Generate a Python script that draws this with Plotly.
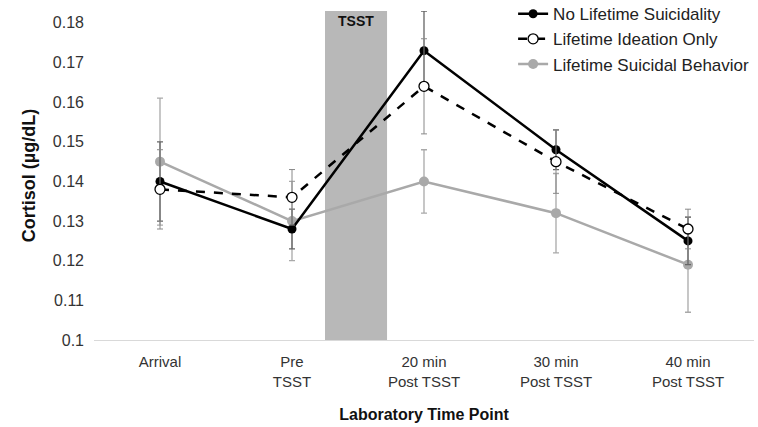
import plotly.graph_objects as go

categories = ["Arrival", "Pre<br>TSST", "20 min<br>Post TSST", "30 min<br>Post TSST", "40 min<br>Post TSST"]
none_vals = [0.140, 0.128, 0.173, 0.148, 0.125]
none_err = [0.010, 0.005, 0.010, 0.005, 0.006]
ideation_vals = [0.138, 0.136, 0.164, 0.145, 0.128]
ideation_err = [0.010, 0.007, 0.012, 0.008, 0.005]
behavior_vals = [0.145, 0.130, 0.140, 0.132, 0.119]
behavior_err = [0.016, 0.010, 0.008, 0.010, 0.012]
yticks = [0.10, 0.11, 0.12, 0.13, 0.14, 0.15, 0.16, 0.17, 0.18]
ytick_text = ["0.1", "0.11", "0.12", "0.13", "0.14", "0.15", "0.16", "0.17", "0.18"]

xi = list(range(len(categories)))
FONT = "Liberation Sans, Arial"

fig = go.Figure()
fig.add_trace(go.Scatter(
    x=xi, y=behavior_vals, name="Lifetime Suicidal Behavior", legendrank=3,
    mode="lines+markers",
    line=dict(color="#a9a9a9", width=2.5),
    marker=dict(symbol="circle", size=10, color="#a9a9a9"),
    error_y=dict(type="data", array=behavior_err, color="#a9a9a9", thickness=1.3, width=3),
))
fig.add_trace(go.Scatter(
    x=xi, y=none_vals, name="No Lifetime Suicidality", legendrank=1,
    mode="lines+markers",
    line=dict(color="black", width=2.5),
    marker=dict(symbol="circle", size=9, color="black"),
    error_y=dict(type="data", array=none_err, color="#666666", thickness=1.3, width=3),
))
fig.add_trace(go.Scatter(
    x=xi, y=ideation_vals, name="Lifetime Ideation Only", legendrank=2,
    mode="lines+markers",
    line=dict(color="black", width=2.5, dash="dash"),
    marker=dict(symbol="circle", size=10, color="white", line=dict(color="black", width=1.3)),
    error_y=dict(type="data", array=ideation_err, color="#888888", thickness=1, width=3),
))

fig.add_shape(type="rect", xref="x", yref="paper", x0=1.25, x1=1.72, y0=0, y1=1,
              fillcolor="#b8b8b8", line=dict(width=0), layer="below")
fig.add_annotation(x=1.485, xref="x", y=1.0, yref="paper", text="<b>TSST</b>", showarrow=False,
                   font=dict(size=14, color="#111111", family=FONT), yanchor="top")

fig.update_layout(
    width=758, height=427,
    margin=dict(l=94, r=4, t=11, b=87, autoexpand=False),
    plot_bgcolor="white", paper_bgcolor="white",
    font=dict(family=FONT, size=15, color="#333333"),
    showlegend=True,
    legend=dict(x=0.635, y=1.045, xanchor="left", yanchor="top", bgcolor="rgba(0,0,0,0)",
                font=dict(size=17, color="#222222"), tracegroupgap=0, itemwidth=30),
    xaxis=dict(tickmode="array", tickvals=xi, ticktext=categories, range=[-0.5, 4.5],
               showgrid=False, showline=True, linecolor="#d9d9d9", linewidth=1, ticks="",
               ticklabelstandoff=8,
               title=dict(text="<b>Laboratory Time Point</b>", font=dict(size=16, color="#111111"), standoff=20),
               tickfont=dict(size=15, color="#333333")),
    yaxis=dict(range=[0.1, 0.183], tickmode="array", tickvals=yticks, ticktext=ytick_text,
               showgrid=False, showline=False, zeroline=False, ticks="",
               ticklabelstandoff=9,
               title=dict(text="<b>Cortisol (µg/dL)</b>", font=dict(size=18, color="#111111"), standoff=12),
               tickfont=dict(size=16, color="#333333")),
)

fig.write_html("out.html")
